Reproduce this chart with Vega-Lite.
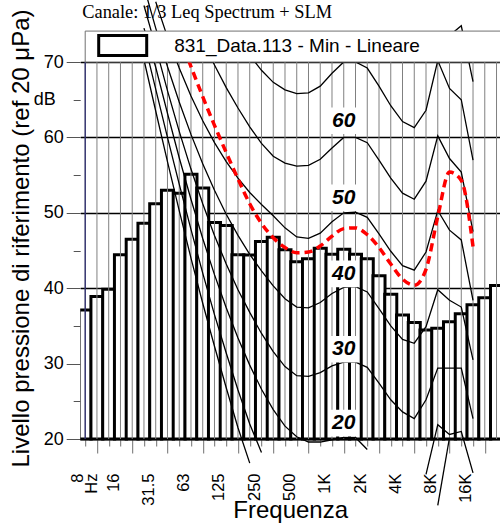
{
"$schema": "https://vega.github.io/schema/vega-lite/v6.json",
"width": 419.8, "height": 524,
"autosize": {"type": "none"},
"padding": {"left": 80.2, "top": 0, "right": 0, "bottom": 0},
"background": "white",
"config": {"view": {"stroke": null}, "font": "Liberation Sans"},
"title": {"text": "Canale: 1/3 Leq Spectrum + SLM", "anchor": "start", "frame": "group", "font": "Liberation Serif", "fontSize": 18.4, "fontWeight": "normal", "color": "black", "baseline": "alphabetic", "offset": -36.75, "dx": 2},
"datasets": {
"bars": [
{"band":0,"freq":"6.3","level":37.1,"series":"831_Data.113 - Min - Lineare"},
{"band":1,"freq":"8","level":38.9,"series":"831_Data.113 - Min - Lineare"},
{"band":2,"freq":"10","level":39.85,"series":"831_Data.113 - Min - Lineare"},
{"band":3,"freq":"12.5","level":44.45,"series":"831_Data.113 - Min - Lineare"},
{"band":4,"freq":"16","level":46.5,"series":"831_Data.113 - Min - Lineare"},
{"band":5,"freq":"20","level":48.6,"series":"831_Data.113 - Min - Lineare"},
{"band":6,"freq":"25","level":51.2,"series":"831_Data.113 - Min - Lineare"},
{"band":7,"freq":"31.5","level":53.0,"series":"831_Data.113 - Min - Lineare"},
{"band":8,"freq":"40","level":52.6,"series":"831_Data.113 - Min - Lineare"},
{"band":9,"freq":"50","level":55.1,"series":"831_Data.113 - Min - Lineare"},
{"band":10,"freq":"63","level":53.3,"series":"831_Data.113 - Min - Lineare"},
{"band":11,"freq":"80","level":48.7,"series":"831_Data.113 - Min - Lineare"},
{"band":12,"freq":"100","level":48.3,"series":"831_Data.113 - Min - Lineare"},
{"band":13,"freq":"125","level":44.45,"series":"831_Data.113 - Min - Lineare"},
{"band":14,"freq":"160","level":44.4,"series":"831_Data.113 - Min - Lineare"},
{"band":15,"freq":"200","level":46.2,"series":"831_Data.113 - Min - Lineare"},
{"band":16,"freq":"250","level":46.75,"series":"831_Data.113 - Min - Lineare"},
{"band":17,"freq":"315","level":45.1,"series":"831_Data.113 - Min - Lineare"},
{"band":18,"freq":"400","level":43.5,"series":"831_Data.113 - Min - Lineare"},
{"band":19,"freq":"500","level":43.9,"series":"831_Data.113 - Min - Lineare"},
{"band":20,"freq":"630","level":45.3,"series":"831_Data.113 - Min - Lineare"},
{"band":21,"freq":"800","level":44.5,"series":"831_Data.113 - Min - Lineare"},
{"band":22,"freq":"1K","level":45.15,"series":"831_Data.113 - Min - Lineare"},
{"band":23,"freq":"1.25K","level":44.5,"series":"831_Data.113 - Min - Lineare"},
{"band":24,"freq":"1.6K","level":43.9,"series":"831_Data.113 - Min - Lineare"},
{"band":25,"freq":"2K","level":41.65,"series":"831_Data.113 - Min - Lineare"},
{"band":26,"freq":"2.5K","level":39.2,"series":"831_Data.113 - Min - Lineare"},
{"band":27,"freq":"3.15K","level":36.45,"series":"831_Data.113 - Min - Lineare"},
{"band":28,"freq":"4K","level":35.45,"series":"831_Data.113 - Min - Lineare"},
{"band":29,"freq":"5K","level":34.45,"series":"831_Data.113 - Min - Lineare"},
{"band":30,"freq":"6.3K","level":34.7,"series":"831_Data.113 - Min - Lineare"},
{"band":31,"freq":"8K","level":35.55,"series":"831_Data.113 - Min - Lineare"},
{"band":32,"freq":"10K","level":36.6,"series":"831_Data.113 - Min - Lineare"},
{"band":33,"freq":"12.5K","level":37.8,"series":"831_Data.113 - Min - Lineare"},
{"band":34,"freq":"16K","level":38.75,"series":"831_Data.113 - Min - Lineare"},
{"band":35,"freq":"20K","level":40.35,"series":"831_Data.113 - Min - Lineare"}
],
"red": [
{"band":8,"level":73.5},{"band":9,"level":69.4},{"band":10,"level":65.4},{"band":11,"level":61.6},{"band":12,"level":58.0},{"band":13,"level":54.5},{"band":14,"level":51.2},{"band":15,"level":48.6},{"band":16,"level":46.7},{"band":17,"level":45.4},{"band":18,"level":44.7},{"band":19,"level":44.8},{"band":20,"level":45.6},{"band":21,"level":46.9},{"band":22,"level":47.9},{"band":23,"level":48.0},{"band":24,"level":47.1},{"band":25,"level":45.4},{"band":26,"level":43.2},{"band":27,"level":41.2},{"band":28,"level":40.4},{"band":29,"level":42.5},{"band":30,"level":49.5},{"band":31,"level":55.4},{"band":32,"level":54.3},{"band":33,"level":45.5}
],
"contours": [
{"phon":80,"part":1,"band":31,"level":73.5},{"phon":80,"part":1,"band":32,"level":74.8},{"phon":80,"part":1,"band":33,"level":67.4},
{"phon":70,"part":1,"band":13,"level":73.2},{"phon":70,"part":1,"band":14,"level":70.9},{"phon":70,"part":1,"band":15,"level":68.9},{"phon":70,"part":1,"band":16,"level":67.3},{"phon":70,"part":1,"band":17,"level":66.3},{"phon":70,"part":1,"band":18,"level":65.8},{"phon":70,"part":1,"band":19,"level":65.9},{"phon":70,"part":1,"band":20,"level":66.8},{"phon":70,"part":1,"band":21,"level":68.5},{"phon":70,"part":1,"band":22,"level":70.0},{"phon":70,"part":1,"band":23,"level":70.0},{"phon":70,"part":1,"band":24,"level":69.2},{"phon":70,"part":1,"band":25,"level":66.8},{"phon":70,"part":1,"band":26,"level":64.2},{"phon":70,"part":1,"band":27,"level":62.1},{"phon":70,"part":1,"band":28,"level":61.3},{"phon":70,"part":1,"band":29,"level":63.6},{"phon":70,"part":1,"band":30,"level":70.2},{"phon":70,"part":1,"band":31,"level":66.5},{"phon":70,"part":1,"band":32,"level":65.0},{"phon":70,"part":1,"band":33,"level":57.0},
{"phon":60,"part":1,"band":10,"level":72.8},{"phon":60,"part":1,"band":11,"level":69.6},{"phon":60,"part":1,"band":12,"level":66.6},{"phon":60,"part":1,"band":13,"level":63.9},{"phon":60,"part":1,"band":14,"level":61.4},{"phon":60,"part":1,"band":15,"level":59.2},{"phon":60,"part":1,"band":16,"level":57.5},{"phon":60,"part":1,"band":17,"level":56.6},{"phon":60,"part":1,"band":18,"level":56.2},{"phon":60,"part":1,"band":19,"level":56.3},{"phon":60,"part":1,"band":20,"level":57.1},{"phon":60,"part":1,"band":21,"level":58.6},{"phon":60,"part":1,"band":22,"level":60.0},{"phon":60,"part":1,"band":23,"level":60.0},{"phon":60,"part":1,"band":24,"level":59.3},{"phon":60,"part":1,"band":25,"level":57.0},{"phon":60,"part":1,"band":26,"level":54.6},{"phon":60,"part":1,"band":27,"level":52.6},{"phon":60,"part":1,"band":28,"level":51.8},{"phon":60,"part":1,"band":29,"level":54.2},{"phon":60,"part":1,"band":30,"level":60.2},{"phon":60,"part":1,"band":31,"level":57.2},{"phon":60,"part":1,"band":32,"level":55.4},{"phon":60,"part":1,"band":33,"level":47.5},
{"phon":50,"part":1,"band":6,"level":78.0},{"phon":50,"part":1,"band":7,"level":73.3},{"phon":50,"part":1,"band":8,"level":69.2},{"phon":50,"part":1,"band":9,"level":65.5},{"phon":50,"part":1,"band":10,"level":62.2},{"phon":50,"part":1,"band":11,"level":59.3},{"phon":50,"part":1,"band":12,"level":56.8},{"phon":50,"part":1,"band":13,"level":54.6},{"phon":50,"part":1,"band":14,"level":52.7},{"phon":50,"part":1,"band":15,"level":51.1},{"phon":50,"part":1,"band":16,"level":49.6},{"phon":50,"part":1,"band":17,"level":48.0},{"phon":50,"part":1,"band":18,"level":46.8},{"phon":50,"part":1,"band":19,"level":46.6},{"phon":50,"part":1,"band":20,"level":47.3},{"phon":50,"part":1,"band":21,"level":48.8},{"phon":50,"part":1,"band":22,"level":50.0},{"phon":50,"part":1,"band":23,"level":50.1},{"phon":50,"part":1,"band":24,"level":49.4},{"phon":50,"part":1,"band":25,"level":47.2},{"phon":50,"part":1,"band":26,"level":44.9},{"phon":50,"part":1,"band":27,"level":43.0},{"phon":50,"part":1,"band":28,"level":42.4},{"phon":50,"part":1,"band":29,"level":44.8},{"phon":50,"part":1,"band":30,"level":50.3},{"phon":50,"part":1,"band":31,"level":47.7},{"phon":50,"part":1,"band":32,"level":46.4},{"phon":50,"part":1,"band":33,"level":38.4},
{"phon":40,"part":1,"band":5,"level":80.0},{"phon":40,"part":1,"band":6,"level":74.5},{"phon":40,"part":1,"band":7,"level":69.4},{"phon":40,"part":1,"band":8,"level":64.7},{"phon":40,"part":1,"band":9,"level":60.4},{"phon":40,"part":1,"band":10,"level":56.5},{"phon":40,"part":1,"band":11,"level":53.0},{"phon":40,"part":1,"band":12,"level":49.8},{"phon":40,"part":1,"band":13,"level":47.0},{"phon":40,"part":1,"band":14,"level":44.5},{"phon":40,"part":1,"band":15,"level":42.3},{"phon":40,"part":1,"band":16,"level":40.3},{"phon":40,"part":1,"band":17,"level":38.6},{"phon":40,"part":1,"band":18,"level":37.5},{"phon":40,"part":1,"band":19,"level":37.4},{"phon":40,"part":1,"band":20,"level":38.1},{"phon":40,"part":1,"band":21,"level":39.3},{"phon":40,"part":1,"band":22,"level":40.1},{"phon":40,"part":1,"band":23,"level":40.2},{"phon":40,"part":1,"band":24,"level":39.5},{"phon":40,"part":1,"band":25,"level":37.3},{"phon":40,"part":1,"band":26,"level":35.0},{"phon":40,"part":1,"band":27,"level":33.2},{"phon":40,"part":1,"band":28,"level":32.7},{"phon":40,"part":1,"band":29,"level":34.9},{"phon":40,"part":1,"band":30,"level":39.8},{"phon":40,"part":1,"band":31,"level":38.4},{"phon":40,"part":1,"band":32,"level":37.5},{"phon":40,"part":1,"band":33,"level":30.5},
{"phon":30,"part":1,"band":5,"level":77.5},{"phon":30,"part":1,"band":6,"level":72.0},{"phon":30,"part":1,"band":7,"level":66.2},{"phon":30,"part":1,"band":8,"level":60.8},{"phon":30,"part":1,"band":9,"level":55.8},{"phon":30,"part":1,"band":10,"level":51.2},{"phon":30,"part":1,"band":11,"level":47.0},{"phon":30,"part":1,"band":12,"level":43.2},{"phon":30,"part":1,"band":13,"level":39.8},{"phon":30,"part":1,"band":14,"level":36.8},{"phon":30,"part":1,"band":15,"level":34.0},{"phon":30,"part":1,"band":16,"level":31.6},{"phon":30,"part":1,"band":17,"level":29.6},{"phon":30,"part":1,"band":18,"level":28.4},{"phon":30,"part":1,"band":19,"level":28.3},{"phon":30,"part":1,"band":20,"level":28.8},{"phon":30,"part":1,"band":21,"level":29.7},{"phon":30,"part":1,"band":22,"level":30.2},{"phon":30,"part":1,"band":23,"level":30.2},{"phon":30,"part":1,"band":24,"level":29.5},{"phon":30,"part":1,"band":25,"level":27.4},{"phon":30,"part":1,"band":26,"level":25.2},{"phon":30,"part":1,"band":27,"level":23.6},{"phon":30,"part":1,"band":28,"level":22.7},{"phon":30,"part":1,"band":29,"level":25.2},{"phon":30,"part":1,"band":30,"level":29.4},{"phon":30,"part":1,"band":31,"level":29.4},{"phon":30,"part":1,"band":32,"level":29.4},{"phon":30,"part":1,"band":33,"level":22.7},
{"phon":20,"part":1,"band":5,"level":74.5},{"phon":20,"part":1,"band":6,"level":69.3},{"phon":20,"part":1,"band":7,"level":63.2},{"phon":20,"part":1,"band":8,"level":57.3},{"phon":20,"part":1,"band":9,"level":51.8},{"phon":20,"part":1,"band":10,"level":46.6},{"phon":20,"part":1,"band":11,"level":41.8},{"phon":20,"part":1,"band":12,"level":37.4},{"phon":20,"part":1,"band":13,"level":33.4},{"phon":20,"part":1,"band":14,"level":29.8},{"phon":20,"part":1,"band":15,"level":26.6},{"phon":20,"part":1,"band":16,"level":23.9},{"phon":20,"part":1,"band":17,"level":21.7},{"phon":20,"part":1,"band":18,"level":20.3},{"phon":20,"part":1,"band":19,"level":19.6},{"phon":20,"part":1,"band":20,"level":19.6},{"phon":20,"part":1,"band":21,"level":19.9},{"phon":20,"part":1,"band":22,"level":20.2},{"phon":20,"part":1,"band":23,"level":20.2},{"phon":20,"part":1,"band":24,"level":18.6},
{"phon":20,"part":2,"band":29,"level":15.3},{"phon":20,"part":2,"band":30,"level":21.9},{"phon":20,"part":2,"band":31,"level":20.6},{"phon":20,"part":2,"band":32,"level":21.0},{"phon":20,"part":2,"band":33,"level":15.5},
{"phon":10,"part":1,"band":5,"level":72.8},{"phon":10,"part":1,"band":6,"level":66.4},{"phon":10,"part":1,"band":7,"level":60.0},{"phon":10,"part":1,"band":8,"level":53.8},{"phon":10,"part":1,"band":9,"level":47.8},{"phon":10,"part":1,"band":10,"level":42.0},{"phon":10,"part":1,"band":11,"level":36.5},{"phon":10,"part":1,"band":12,"level":31.4},{"phon":10,"part":1,"band":13,"level":26.5},{"phon":10,"part":1,"band":14,"level":22.0},{"phon":10,"part":1,"band":15,"level":18.2},
{"phon":10,"part":2,"band":30,"level":11.2},{"phon":10,"part":2,"band":31,"level":20.2},
{"phon":0,"part":1,"band":5,"level":70.3},{"phon":0,"part":1,"band":6,"level":63.5},{"phon":0,"part":1,"band":7,"level":56.8},{"phon":0,"part":1,"band":8,"level":50.3},{"phon":0,"part":1,"band":9,"level":44.0},{"phon":0,"part":1,"band":10,"level":38.0},{"phon":0,"part":1,"band":11,"level":32.3},{"phon":0,"part":1,"band":12,"level":26.8},{"phon":0,"part":1,"band":13,"level":21.5},{"phon":0,"part":1,"band":14,"level":16.8}
],
"labels": [
{"text":"60","band":22,"level":62.2},{"text":"50","band":22,"level":52.0},{"text":"40","band":22,"level":41.9},{"text":"30","band":22,"level":31.9},{"text":"20","band":22,"level":22.1}
]
},
"layer": [
{
"data": {"name": "bars"},
"mark": {"type": "bar", "width": 12.04, "stroke": "black", "strokeWidth": 3, "clip": true},
"encoding": {
"x": {"field": "band", "type": "quantitative", "scale": {"domain": [0, 34.87], "nice": false, "zero": false},
 "axis": {"values": [0,1,2,3,4,5,6,7,8,9,10,11,12,13,14,15,16,17,18,19,20,21,22,23,24,25,26,27,28,29,30,31,32,33,34], "tickCount": 100,
  "offset": -85, "grid": false, "domainColor": "#22226a", "domainWidth": 1, "tickColor": "#6f6f6f", "tickWidth": 1,
  "tickSize": {"condition": {"test": "datum.value % 3 == 1", "value": 14}, "value": 7},
  "labelExpr": "datum.value % 3 == 1 ? [['8','Hz'],'16','31.5','63','125','250','500','1K','2K','4K','8K','16K'][(datum.value - 1) / 3] : ''",
  "labelAngle": -90, "labelFont": "Liberation Sans", "labelFontSize": 16.5, "labelColor": "black", "labelPadding": 20,
  "labelOffset": -19,
  "labelOverlap": false, "labelFlush": false, "labelBound": false, "labelLineHeight": 14,
  "title": "Frequenza", "titleFont": "Liberation Sans", "titleFontSize": 24, "titleFontWeight": "normal", "titleColor": "black",
  "titleX": 210, "titleY": 78, "titleBaseline": "alphabetic"}},
"y": {"field": "level", "type": "quantitative", "scale": {"domain": [8.727, 78.223], "nice": false, "zero": false},
 "axis": {"values": [20,25,30,35,40,45,50,55,60,65,70], "tickCount": 100, "format": "d", "grid": true, "gridColor": "black", "gridWidth": 1.3,
  "gridOpacity": {"condition": {"test": "datum.value % 10 == 0", "value": 1}, "value": 0},
  "domain": false, "tickColor": "#555555", "tickWidth": 1,
  "tickSize": {"condition": {"test": "datum.value % 10 == 0", "value": 14}, "value": 7},
  "labelExpr": "datum.value == 65 ? 'dB' : (datum.value % 10 == 0 ? datum.label : '')",
  "labelFont": "Liberation Sans", "labelFontSize": 18, "labelColor": "black", "labelOverlap": false, "labelFlush": false,
  "labelPadding": {"condition": {"test": "datum.value == 65", "value": 18}, "value": 3},
  "title": "Livello pressione di riferimento (ref 20 μPa)", "titleFont": "Liberation Sans", "titleFontSize": 24, "titleFontWeight": "normal", "titleColor": "black",
  "titleX": -52, "titleY": 238, "titleBaseline": "alphabetic"}},
"y2": {"datum": 20},
"fill": {"field": "series", "type": "nominal", "scale": {"range": ["white"]},
 "legend": {"orient": "none", "legendX": 17, "legendY": 20, "title": null, "padding": 0,
  "symbolType": "M-1,-0.42H1V0.42H-1Z", "symbolSize": 2304, "symbolStrokeColor": "black", "symbolStrokeWidth": 3,
  "labelFont": "Liberation Sans", "labelFontSize": 19, "labelColor": "black", "labelOffset": 26, "labelLimit": 400}}
}
},
{
"data": {"name": "bars"},
"mark": {"type": "rule", "stroke": "#808080", "strokeWidth": 1, "clip": true},
"encoding": {
"x": {"field": "band", "type": "quantitative", "scale": {"domain": [0, 34.87], "nice": false, "zero": false}},
"y": {"datum": 20, "scale": {"domain": [8.727, 78.223], "nice": false, "zero": false}},
"y2": {"datum": 70}
}
},
{
"data": {"values": [{"part": "y axis line"}]},
"mark": {"type": "rule", "stroke": "#22226a", "strokeWidth": 1.2},
"encoding": {
"x": {"datum": 0, "scale": {"domain": [0, 34.87], "nice": false, "zero": false}},
"y": {"datum": 20, "scale": {"domain": [8.727, 78.223], "nice": false, "zero": false}},
"y2": {"datum": 70}
}
},
{
"data": {"name": "contours"},
"mark": {"type": "line", "stroke": "black", "strokeWidth": 1.3, "clip": true, "interpolate": "linear"},
"encoding": {
"x": {"field": "band", "type": "quantitative", "scale": {"domain": [0, 34.87], "nice": false, "zero": false}},
"y": {"field": "level", "type": "quantitative", "scale": {"domain": [8.727, 78.223], "nice": false, "zero": false}},
"detail": [{"field": "phon", "type": "nominal"}, {"field": "part", "type": "nominal"}]
}
},
{
"data": {"name": "red"},
"mark": {"type": "line", "stroke": "#ff0000", "strokeWidth": 3.5, "strokeDash": [8, 5], "clip": true, "interpolate": "monotone"},
"encoding": {
"x": {"field": "band", "type": "quantitative", "scale": {"domain": [0, 34.87], "nice": false, "zero": false}},
"y": {"field": "level", "type": "quantitative", "scale": {"domain": [8.727, 78.223], "nice": false, "zero": false}}
}
},
{
"data": {"values": [{"part": "legend frame"}]},
"mark": {"type": "rect", "fill": "white", "stroke": "#707070", "strokeWidth": 1, "clip": true},
"encoding": {
"x": {"datum": 0, "scale": {"domain": [0, 34.87], "nice": false, "zero": false}},
"x2": {"datum": 36},
"y": {"datum": 70, "scale": {"domain": [8.727, 78.223], "nice": false, "zero": false}},
"y2": {"datum": 74.1}
}
},
{
"data": {"name": "labels"},
"mark": {"type": "point", "shape": "M-1,-0.95H1V0.95H-1Z", "size": 784, "filled": true, "fill": "white", "stroke": null, "opacity": 1, "clip": true},
"encoding": {
"x": {"field": "band", "type": "quantitative", "scale": {"domain": [0, 34.87], "nice": false, "zero": false}},
"y": {"field": "level", "type": "quantitative", "scale": {"domain": [8.727, 78.223], "nice": false, "zero": false}}
}
},
{
"data": {"name": "labels"},
"mark": {"type": "text", "font": "Liberation Sans", "fontSize": 21, "fontWeight": "bold", "fontStyle": "italic", "align": "center", "baseline": "middle", "color": "black", "clip": true},
"encoding": {
"x": {"field": "band", "type": "quantitative", "scale": {"domain": [0, 34.87], "nice": false, "zero": false}},
"y": {"field": "level", "type": "quantitative", "scale": {"domain": [8.727, 78.223], "nice": false, "zero": false}},
"text": {"field": "text"}
}
}
]
}
